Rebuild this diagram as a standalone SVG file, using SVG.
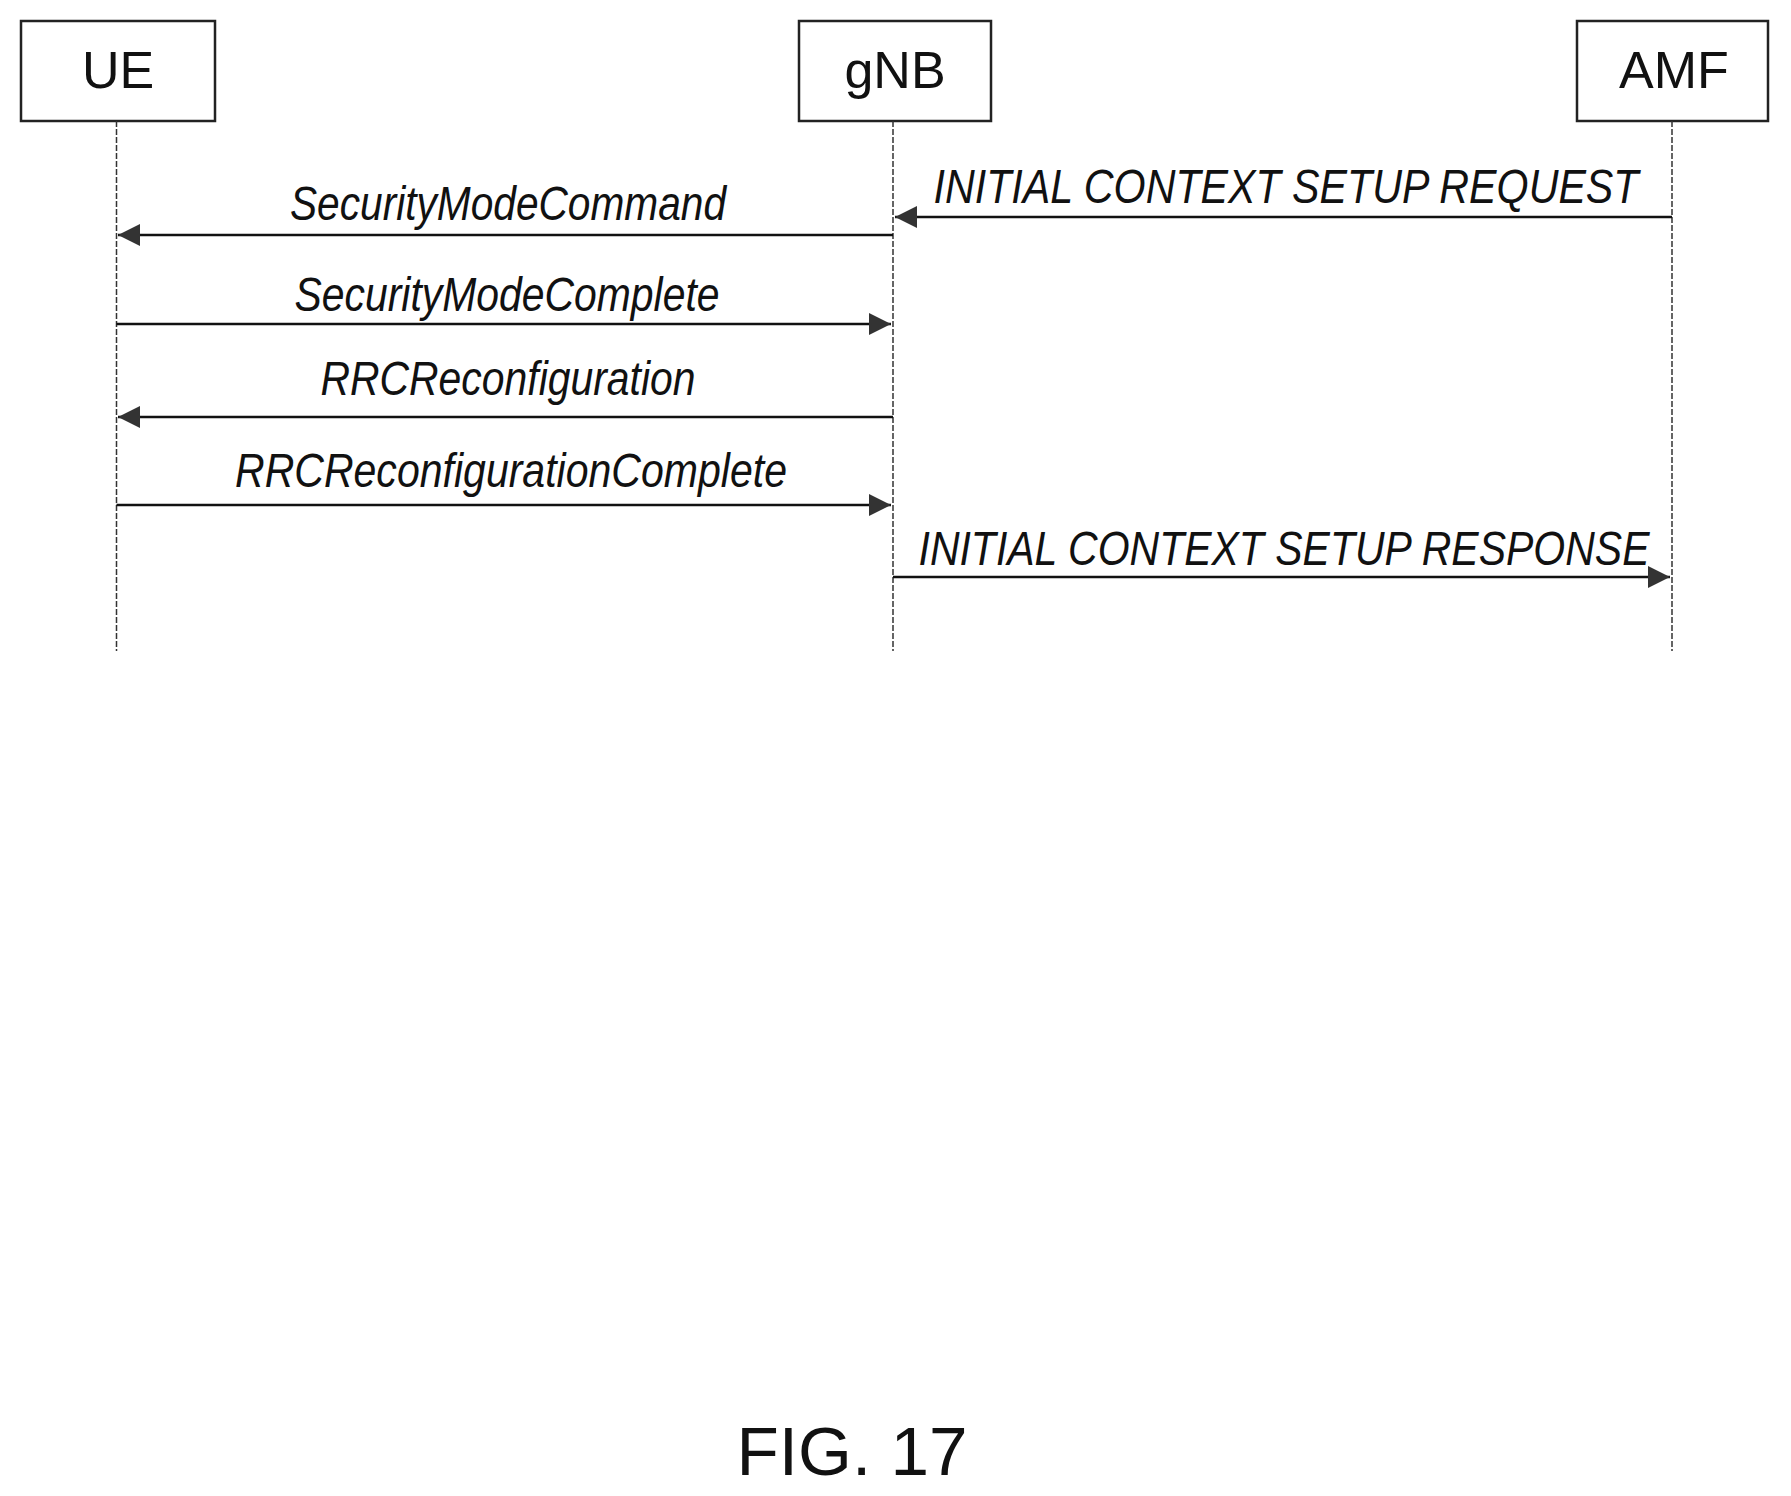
<svg xmlns="http://www.w3.org/2000/svg" width="1791" height="1496" viewBox="0 0 1791 1496">
<style>
.box{fill:#fff;stroke:#222;stroke-width:2.5}
.life{stroke:#333;stroke-width:1.5;stroke-dasharray:6 2}
.msg{stroke:#111;stroke-width:2.5;fill:none}
.t{font-family:"Liberation Sans",Arial,sans-serif;fill:#111}
.lbl{font-size:48px;font-style:italic;text-anchor:middle}
.node{font-size:52px;text-anchor:middle}
</style>
<defs>
<marker id="ah" viewBox="0 0 10 10" refX="10" refY="5" markerWidth="22" markerHeight="22" markerUnits="userSpaceOnUse" orient="auto">
<path d="M0,0 L10,5 L0,10 z" fill="#333"/>
</marker>
</defs>
<rect width="1791" height="1496" fill="#fff"/>
<g id="UE"><rect class="box" x="21" y="21" width="194" height="100"/><text class="t node" x="118" y="88">UE</text></g>
<g id="gNB"><rect class="box" x="799" y="21" width="192" height="100"/><text class="t node" x="895" y="88">gNB</text></g>
<g id="AMF"><rect class="box" x="1577" y="21" width="191" height="100"/><text class="t node" x="1674" y="88">AMF</text></g>
<g id="lifelines">
<line class="life" x1="116.5" y1="121" x2="116.5" y2="651"/>
<line class="life" x1="893" y1="121" x2="893" y2="651"/>
<line class="life" x1="1672" y1="121" x2="1672" y2="651"/>
</g>
<g id="connectors">
<line class="msg" x1="1672" y1="217" x2="895" y2="217" marker-end="url(#ah)"/>
<line class="msg" x1="893" y1="235" x2="118" y2="235" marker-end="url(#ah)"/>
<line class="msg" x1="116.5" y1="324" x2="891" y2="324" marker-end="url(#ah)"/>
<line class="msg" x1="893" y1="417" x2="118" y2="417" marker-end="url(#ah)"/>
<line class="msg" x1="116.5" y1="505" x2="891" y2="505" marker-end="url(#ah)"/>
<line class="msg" x1="893" y1="577" x2="1670" y2="577" marker-end="url(#ah)"/>
</g>
<g id="labels">
<text class="t lbl" x="1286" y="203" textLength="705" lengthAdjust="spacingAndGlyphs">INITIAL CONTEXT SETUP REQUEST</text>
<text class="t lbl" x="508" y="220" textLength="436" lengthAdjust="spacingAndGlyphs">SecurityModeCommand</text>
<text class="t lbl" x="507" y="311" textLength="425" lengthAdjust="spacingAndGlyphs">SecurityModeComplete</text>
<text class="t lbl" x="508" y="395" textLength="375" lengthAdjust="spacingAndGlyphs">RRCReconfiguration</text>
<text class="t lbl" x="511" y="487" textLength="552" lengthAdjust="spacingAndGlyphs">RRCReconfigurationComplete</text>
<text class="t lbl" x="1284" y="565" textLength="731" lengthAdjust="spacingAndGlyphs">INITIAL CONTEXT SETUP RESPONSE</text>
</g>
<text class="t" x="852" y="1475" font-size="68" text-anchor="middle" textLength="231" lengthAdjust="spacingAndGlyphs">FIG. 17</text>
</svg>
